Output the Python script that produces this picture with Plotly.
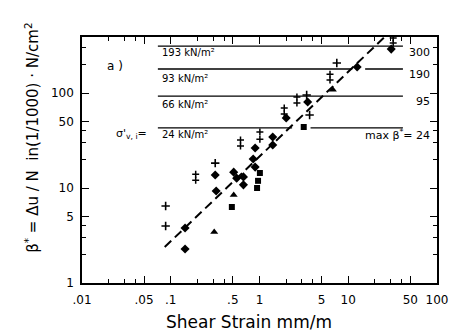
import plotly.graph_objects as go

# ---- data ----
plus_x = [0.0876, 0.0876, 0.317, 3.67, 3.40, 7.43]
plus_y = [6.47, 3.98, 18.3, 58.7, 95.3, 207]

dplus_x = [0.191, 0.611, 1.01, 1.90, 2.64, 6.23, 32.1]
dplus_y_upper = [14.0, 32.0, 38.9, 69.5, 90.7, 158, 379]
dplus_y_lower = [12.1, 27.7, 32.7, 60.1, 78.5, 137, 336]

diam_x = [0.145, 0.145, 0.325, 0.317, 0.512, 0.553, 0.659, 0.659, 0.893, 0.849, 0.893, 1.41, 1.41, 2.00, 3.49, 12.6, 30.5]
diam_y = [3.79, 2.28, 9.30, 13.7, 14.7, 12.7, 10.8, 13.1, 26.4, 20.2, 16.6, 34.4, 28.4, 54.6, 80.4, 188, 290]

tri_x = [0.309, 0.512, 6.71]
tri_y = [3.44, 8.44, 108]

sq_x = [0.488, 0.939, 0.963, 1.01, 3.15]
sq_y = [6.31, 10.0, 11.9, 14.4, 43.9]

fit_x = [0.0855, 25.6]
fit_y = [2.39, 388]

level_y = [312, 179, 93, 43]
level_x_start = 0.0716
level_x_end = 41.3
level_gaps = [None, (11.1, 15.5), None, (2.33, 3.76)]

level_left_labels = ["193 kN/m²", "93 kN/m²", "66 kN/m²", "24 kN/m²"]
level_right_labels = ["300", "190", "95", "max β<sup>*</sup>= 24"]

x_tickvals = [0.01, 0.05, 0.1, 0.5, 1, 5, 10, 50, 100]
x_ticktext = [".01", ".05", ".1", ".5", "1", "5", "10", "50", "100"]
y_tickvals = [1, 5, 10, 50, 100]
y_ticktext = ["1", "5", "10", "50", "100"]

FONT = "DejaVu Sans"
fig = go.Figure()

# horizontal stress-level lines
for yv, gap in zip(level_y, level_gaps):
    if gap is None:
        xs = [level_x_start, level_x_end]
        ys = [yv, yv]
    else:
        xs = [level_x_start, gap[0], None, gap[1], level_x_end]
        ys = [yv, yv, None, yv, yv]
    fig.add_trace(go.Scatter(x=xs, y=ys, mode="lines",
                             line=dict(color="black", width=1.3),
                             showlegend=False, hoverinfo="skip"))

# regression line
fig.add_trace(go.Scatter(x=fit_x, y=fit_y, mode="lines",
                         line=dict(color="black", width=2, dash="9px,5px"),
                         showlegend=False))

fig.add_trace(go.Scatter(x=plus_x, y=plus_y, mode="markers",
                         marker=dict(symbol="cross-thin", size=6, line=dict(color="black", width=1.6)),
                         showlegend=False))
fig.add_trace(go.Scatter(x=dplus_x + dplus_x, y=dplus_y_upper + dplus_y_lower, mode="markers",
                         marker=dict(symbol="cross-thin", size=5, line=dict(color="black", width=1.5)),
                         showlegend=False))
fig.add_trace(go.Scatter(x=diam_x, y=diam_y, mode="markers",
                         marker=dict(symbol="diamond", size=7, color="black"),
                         showlegend=False))
fig.add_trace(go.Scatter(x=tri_x, y=tri_y, mode="markers",
                         marker=dict(symbol="triangle-up", size=7, color="black"),
                         showlegend=False))
fig.add_trace(go.Scatter(x=sq_x, y=sq_y, mode="markers",
                         marker=dict(symbol="square", size=6, color="black"),
                         showlegend=False))

ann = []
left_y_paper = [0.935, 0.833, 0.724, 0.602]
right_y_paper = [0.939, 0.846, 0.736, 0.602]
for lbl, yp in zip(level_left_labels, left_y_paper):
    ann.append(dict(x=0.219, y=yp, xref="paper", yref="paper", text=lbl,
                    showarrow=False, xanchor="left", yanchor="middle",
                    font=dict(family=FONT, size=10, color="black")))
for lbl, yp in zip(level_right_labels, right_y_paper):
    ann.append(dict(x=0.985, y=yp, xref="paper", yref="paper", text=lbl,
                    showarrow=False, xanchor="right", yanchor="middle",
                    font=dict(family=FONT, size=11, color="black")))
ann.append(dict(x=0.19, y=0.606, xref="paper", yref="paper",
                text="σ'<sub>v, i</sub>=", showarrow=False, xanchor="right",
                font=dict(family=FONT, size=11, color="black")))
ann.append(dict(x=0.066, y=0.919, xref="paper", yref="paper", text="a )",
                showarrow=False, font=dict(family=FONT, size=12, color="black")))
ann.append(dict(x=-0.175, y=0.59, xref="paper", yref="paper", textangle=-90,
                text="β<sup>*</sup> = Δu / N  in(1/1000) · N/cm<sup>2</sup>",
                showarrow=False, font=dict(family=FONT, size=15, color="black")))
ann.append(dict(x=0.471, y=-0.158, xref="paper", yref="paper",
                text="Shear Strain mm/m", showarrow=False, yanchor="middle",
                font=dict(family=FONT, size=17, color="black")))

axis_common = dict(showgrid=False, zeroline=False, showline=True, linecolor="black",
                   linewidth=1.5, mirror="ticks", ticks="inside", ticklen=7,
                   tickwidth=1.2, tickcolor="black",
                   tickfont=dict(family=FONT, size=12, color="black"))

minor_x = [m * 10 ** e for e in (-2, -1, 0, 1) for m in (2, 3, 4)]
minor_y = [m * 10 ** e for e in (0, 1, 2) for m in (2, 3, 4)]

fig.update_layout(
    width=460, height=335,
    margin=dict(l=82, r=13, t=37, b=52),
    plot_bgcolor="white", paper_bgcolor="white",
    xaxis=dict(type="log", range=[-2, 2], tickmode="array",
               tickvals=x_tickvals, ticktext=x_ticktext, ticklabelstandoff=5,
               minor=dict(tickmode="array", tickvals=minor_x, ticks="inside",
                          ticklen=4, tickcolor="black", showgrid=False),
               **axis_common),
    yaxis=dict(type="log", range=[0, 2.59], tickmode="array",
               tickvals=y_tickvals, ticktext=y_ticktext, ticklabelstandoff=4,
               minor=dict(tickmode="array", tickvals=minor_y, ticks="inside",
                          ticklen=4, tickcolor="black", showgrid=False),
               **axis_common),
    annotations=ann,
)

fig.write_html("out.html")
